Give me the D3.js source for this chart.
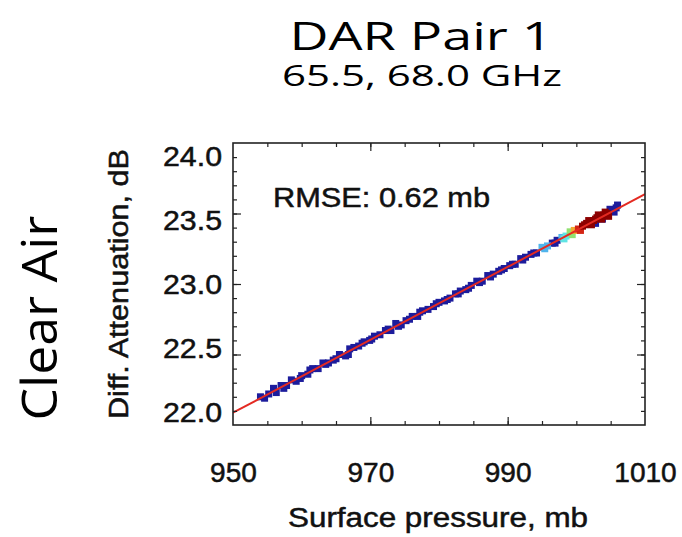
<!DOCTYPE html>
<html>
<head>
<meta charset="utf-8">
<script src="https://cdn.jsdelivr.net/npm/d3@7"></script>
<style>
  body { margin: 0; background: #fff; }
  svg { display: block; }
</style>
</head>
<body>
<div id="chart"></div>
<script>
// surface pressure (mb) vs differential attenuation (dB)
const pressure = [954.0, 954.6, 955.9, 956.3, 957.0, 957.8, 958.5, 959.2, 960.0, 960.9,
  961.6, 962.4, 963.1, 963.9, 964.6, 965.5, 966.4, 967.0, 967.6, 968.3,
  969.1, 969.9, 970.6, 971.4, 972.2, 973.0, 973.7, 974.5, 975.2, 976.1,
  976.9, 977.6, 978.4, 979.2, 980.0, 980.8, 981.6, 982.4, 983.1, 983.9,
  984.7, 985.5, 986.3, 987.1, 987.9, 988.7, 989.5, 990.3, 991.1, 991.9,
  992.6, 993.4, 994.2, 995.0, 995.8, 996.5, 997.2, 997.9, 998.5, 999.1,
  999.7, 1000.3, 1000.9, 1001.5, 1002.0, 1002.5, 1003.0, 1003.5, 1004.0, 1004.5,
  1005.0, 1005.5, 1006.0, 1002.8, 1003.8,
  955.2, 957.4, 959.8, 961.2, 963.5, 965.0, 966.8, 968.8, 970.2, 972.6,
  974.1, 975.7, 977.2, 979.6, 981.2, 982.8, 984.3, 985.9, 987.5, 989.1,
  990.7, 992.2, 993.8, 995.4, 996.9, 998.2, 999.4, 1000.6, 1001.2, 1001.8,
  1002.2, 1002.8, 1003.2, 1003.7, 1004.2, 1004.7, 1004.9, 1005.8];
const atten = [22.20, 22.19, 22.26, 22.23, 22.28, 22.28, 22.32, 22.31, 22.35, 22.36,
  22.40, 22.40, 22.44, 22.44, 22.46, 22.50, 22.49, 22.54, 22.55, 22.56,
  22.59, 22.60, 22.63, 22.64, 22.67, 22.67, 22.72, 22.71, 22.74, 22.77,
  22.77, 22.81, 22.82, 22.84, 22.87, 22.88, 22.90, 22.93, 22.95, 22.96,
  22.99, 23.02, 23.02, 23.06, 23.07, 23.09, 23.11, 23.13, 23.14, 23.18,
  23.19, 23.21, 23.22, 23.26, 23.27, 23.29, 23.31, 23.33, 23.34, 23.37,
  23.38, 23.39, 23.41, 23.43, 23.44, 23.45, 23.47, 23.48, 23.49, 23.50,
  23.52, 23.51, 23.56, 23.43, 23.46,
  22.22, 22.26, 22.33, 22.39, 22.43, 22.47, 22.50, 22.58, 22.61, 22.68,
  22.70, 22.75, 22.80, 22.86, 22.89, 22.93, 22.97, 23.01, 23.05, 23.10,
  23.14, 23.17, 23.22, 23.25, 23.29, 23.32, 23.35, 23.38, 23.42, 23.45,
  23.42, 23.46, 23.49, 23.46, 23.51, 23.48, 23.53, 23.54];
// point density class (0 = sparse ... 6 = densest)
const density = [0, 0, 0, 0, 0, 0, 0, 0, 0, 0,
  0, 0, 0, 0, 0, 0, 0, 0, 0, 0,
  0, 0, 0, 0, 0, 0, 0, 0, 0, 0,
  0, 0, 0, 0, 0, 0, 0, 0, 0, 0,
  0, 0, 0, 0, 0, 0, 0, 0, 0, 0,
  0, 0, 0, 1, 1, 0, 0, 1, 2, 3,
  4, 5, 6, 6, 6, 6, 6, 6, 6, 6,
  0, 0, 0, 0, 0,
  0, 0, 0, 0, 0, 0, 0, 0, 0, 0,
  0, 0, 0, 0, 0, 0, 0, 0, 0, 0,
  0, 0, 0, 1, 0, 2, 3, 5, 6, 6,
  6, 6, 6, 6, 6, 6, 0, 0];
const densityColors = ["#1c1c9c", "#50b4ec", "#60e4e4", "#90e070", "#f0a830", "#d42414", "#8c0000"];

// fit line end points
const fitX = [950, 1010];
const fitY = [22.087, 23.638];

const xTicks = [950, 970, 990, 1010];
const yTicks = [22.0, 22.5, 23.0, 23.5, 24.0];

const W = 682, H = 537;
const svg = d3.select("#chart").append("svg").attr("width", W).attr("height", H);

const x = d3.scaleLinear().domain([950, 1010]).range([233, 645]);
const y = d3.scaleLinear().domain([22, 24]).range([425, 143]);
// y tick labels sit slightly inside the tick span in the original
const yLab = d3.scaleLinear().domain([22, 24]).range([413, 157]);

const title = "'Open Sans', 'Noto Sans', sans-serif";
svg.append("text").attr("x", 421).attr("y", 50).attr("text-anchor", "middle")
  .style("font-family", title).style("font-size", "38px").attr("fill", "#000")
  .attr("textLength", 263).attr("lengthAdjust", "spacingAndGlyphs")
  .text("DAR Pair 1");
svg.append("text").attr("x", 422).attr("y", 86).attr("text-anchor", "middle")
  .style("font-family", title).style("font-size", "29px").attr("fill", "#000")
  .attr("textLength", 280).attr("lengthAdjust", "spacingAndGlyphs")
  .text("65.5, 68.0 GHz");
svg.append("text").attr("transform", "translate(57,318) rotate(-90)").attr("text-anchor", "middle")
  .style("font-family", title).style("font-size", "49px").attr("fill", "#000")
  .attr("textLength", 205).attr("lengthAdjust", "spacingAndGlyphs")
  .text("Clear Air");

const font = "'Liberation Sans', Arial, sans-serif";

svg.append("clipPath").attr("id", "clip").append("rect")
  .attr("x", 233).attr("y", 143).attr("width", 412).attr("height", 282);

const plot = svg.append("g").attr("clip-path", "url(#clip)");

const pts = pressure.map((p, i) => ({p: p, a: atten[i], d: density[i]}))
  .sort((a, b) => a.d - b.d);
const s = 7;
plot.selectAll("rect.pt").data(pts).enter().append("rect")
  .attr("class", "pt")
  .attr("x", d => x(d.p) - s / 2)
  .attr("y", d => y(d.a) - s / 2)
  .attr("width", s).attr("height", s)
  .attr("fill", d => densityColors[d.d]);

plot.append("line")
  .attr("x1", x(fitX[0])).attr("y1", y(fitY[0]))
  .attr("x2", x(fitX[1])).attr("y2", y(fitY[1]))
  .attr("stroke", "#e42a22").attr("stroke-width", 2);

// inward ticks on all four sides
function ticks(axisFn, scale, vals, len, tr) {
  svg.append("g").attr("transform", tr)
    .call(axisFn(scale).tickValues(vals).tickSize(-len).tickFormat(""))
    .call(g => g.select(".domain").remove())
    .call(g => g.selectAll("line").attr("stroke", "#222").attr("stroke-width", 1.2));
}
const xMinor = d3.range(955, 1010, 5);
const xMajor = [970, 990];
const yMinor = d3.range(22.1, 24, 0.1);
const yMajor = [22.5, 23.0, 23.5];
ticks(d3.axisBottom, x, xMinor, 4, "translate(0,425)");
ticks(d3.axisBottom, x, xMajor, 8, "translate(0,425)");
ticks(d3.axisTop, x, xMinor, 4, "translate(0,143)");
ticks(d3.axisTop, x, xMajor, 8, "translate(0,143)");
ticks(d3.axisLeft, y, yMinor, 4, "translate(233,0)");
ticks(d3.axisLeft, y, yMajor, 8, "translate(233,0)");
ticks(d3.axisRight, y, yMinor, 4, "translate(645,0)");
ticks(d3.axisRight, y, yMajor, 8, "translate(645,0)");

svg.append("rect").attr("x", 233).attr("y", 143).attr("width", 412).attr("height", 282)
  .attr("fill", "none").attr("stroke", "#222").attr("stroke-width", 1.6);

function heavy(sel) {
  sel.style("font-family", font).attr("fill", "#111")
    .attr("stroke", "#111").attr("stroke-width", 0.5);
}

svg.append("g").attr("transform", "translate(0,425)")
  .call(d3.axisBottom(x).tickValues(xTicks).tickSize(0).tickPadding(38).tickFormat(d3.format("d")))
  .call(g => g.select(".domain").remove())
  .call(g => g.selectAll("text").call(heavy).style("font-size", "27px")
    .attr("textLength", d => String(d).length * 15.6).attr("lengthAdjust", "spacingAndGlyphs"));

svg.append("g").attr("transform", "translate(233,0)")
  .call(d3.axisLeft(yLab).tickValues(yTicks).tickSize(0).tickPadding(11).tickFormat(d3.format(".1f")))
  .call(g => g.select(".domain").remove())
  .call(g => g.selectAll("text").call(heavy).style("font-size", "27px")
    .attr("textLength", 59).attr("lengthAdjust", "spacingAndGlyphs"));

svg.append("text").attr("x", 438).attr("y", 527).attr("text-anchor", "middle")
  .call(heavy).style("font-size", "27px")
  .attr("textLength", 300).attr("lengthAdjust", "spacingAndGlyphs")
  .text("Surface pressure, mb");
svg.append("text").attr("transform", "translate(128,284) rotate(-90)").attr("text-anchor", "middle")
  .call(heavy).style("font-size", "27px")
  .attr("textLength", 270).attr("lengthAdjust", "spacingAndGlyphs")
  .text("Diff. Attenuation, dB");

svg.append("text").attr("x", 273).attr("y", 207)
  .call(heavy).style("font-size", "27px")
  .attr("textLength", 217).attr("lengthAdjust", "spacingAndGlyphs")
  .text("RMSE: 0.62 mb");
</script>
</body>
</html>
